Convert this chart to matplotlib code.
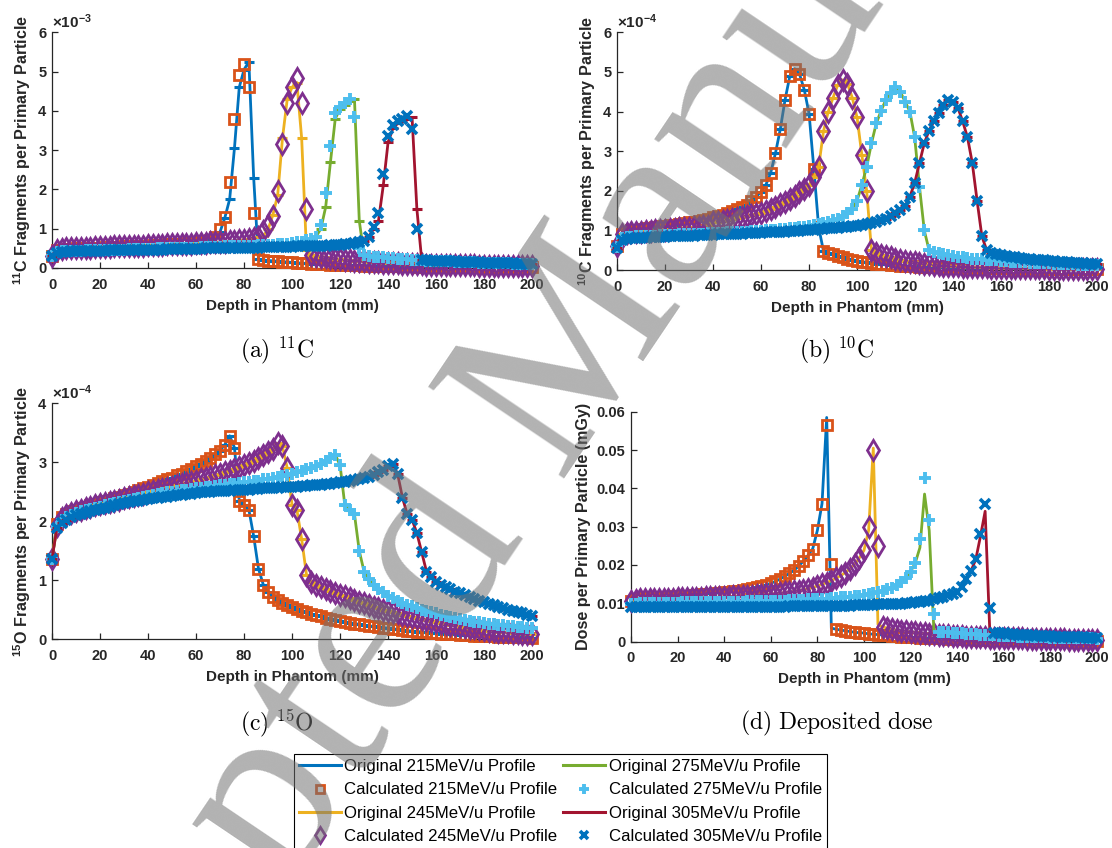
import numpy as np
import matplotlib
matplotlib.use("Agg")
import matplotlib.pyplot as plt
from matplotlib.lines import Line2D

plt.rcParams["font.family"] = "Liberation Sans"
plt.rcParams["font.weight"] = "bold"
plt.rcParams["mathtext.fontset"] = "custom"
plt.rcParams["mathtext.rm"] = "Liberation Sans"
plt.rcParams["mathtext.bf"] = "Liberation Sans:bold"

# depth samples (mm), every 2 mm
depth_mm = np.arange(0, 201, 2)

energies = ["215", "245", "275", "305"]

# ---- (a) 11C fragments per primary particle, units of 1e-3
c11_215 = [
    0.30, 0.45, 0.47, 0.48, 0.49, 0.50, 0.50, 0.51, 0.51, 0.52,
    0.52, 0.53, 0.53, 0.54, 0.54, 0.55, 0.55, 0.56, 0.56, 0.57,
    0.57, 0.58, 0.58, 0.59, 0.60, 0.60, 0.61, 0.62, 0.63, 0.64,
    0.65, 0.67, 0.69, 0.72, 0.80, 0.92, 1.28, 1.75, 3.05, 4.60,
    5.05, 5.25, 2.30, 0.22, 0.20, 0.19, 0.18, 0.17, 0.16, 0.15,
    0.14, 0.13, 0.12, 0.115, 0.11, 0.10, 0.095, 0.09, 0.085, 0.08,
    0.077, 0.073, 0.07, 0.067, 0.064, 0.061, 0.058, 0.055, 0.053, 0.05,
    0.048, 0.046, 0.044, 0.042, 0.04, 0.038, 0.037, 0.035, 0.034, 0.032,
    0.031, 0.03, 0.029, 0.028, 0.027, 0.026, 0.025, 0.024, 0.023, 0.022,
    0.021, 0.02, 0.02, 0.019, 0.018, 0.018, 0.017, 0.016, 0.016, 0.015,
    0.015]
c11_245 = [
    0.30, 0.47, 0.49, 0.50, 0.50, 0.51, 0.51, 0.52, 0.52, 0.53,
    0.53, 0.54, 0.54, 0.55, 0.55, 0.55, 0.56, 0.56, 0.57, 0.57,
    0.58, 0.58, 0.59, 0.59, 0.60, 0.60, 0.61, 0.61, 0.62, 0.62,
    0.63, 0.63, 0.64, 0.65, 0.65, 0.66, 0.67, 0.68, 0.69, 0.70,
    0.72, 0.73, 0.75, 0.78, 0.82, 0.98, 1.35, 1.85, 3.30, 4.30,
    4.60, 4.72, 3.30, 0.45, 0.33, 0.31, 0.29, 0.27, 0.25, 0.24,
    0.22, 0.21, 0.20, 0.19, 0.18, 0.17, 0.16, 0.15, 0.14, 0.135,
    0.13, 0.12, 0.115, 0.11, 0.105, 0.10, 0.095, 0.09, 0.088, 0.085,
    0.082, 0.08, 0.077, 0.075, 0.072, 0.07, 0.068, 0.066, 0.064, 0.062,
    0.06, 0.058, 0.056, 0.055, 0.053, 0.052, 0.05, 0.049, 0.048, 0.047,
    0.046]
c11_275 = [
    0.30, 0.40, 0.42, 0.43, 0.43, 0.44, 0.44, 0.45, 0.45, 0.45,
    0.46, 0.46, 0.46, 0.47, 0.47, 0.47, 0.48, 0.48, 0.48, 0.49,
    0.49, 0.49, 0.50, 0.50, 0.50, 0.51, 0.51, 0.51, 0.52, 0.52,
    0.52, 0.53, 0.53, 0.53, 0.54, 0.54, 0.55, 0.55, 0.55, 0.56,
    0.56, 0.57, 0.57, 0.58, 0.58, 0.59, 0.59, 0.60, 0.61, 0.62,
    0.63, 0.65, 0.67, 0.70, 0.74, 0.80, 1.00, 1.55, 2.70, 3.80,
    4.05, 4.15, 4.25, 4.30, 1.20, 0.32, 0.30, 0.29, 0.28, 0.27,
    0.26, 0.25, 0.24, 0.23, 0.22, 0.21, 0.205, 0.20, 0.19, 0.185,
    0.18, 0.175, 0.17, 0.165, 0.16, 0.155, 0.15, 0.145, 0.14, 0.135,
    0.13, 0.127, 0.124, 0.12, 0.117, 0.114, 0.11, 0.107, 0.104, 0.10,
    0.10]
c11_305 = [
    0.30, 0.38, 0.40, 0.41, 0.42, 0.42, 0.43, 0.43, 0.43, 0.44,
    0.44, 0.44, 0.45, 0.45, 0.45, 0.45, 0.46, 0.46, 0.46, 0.46,
    0.47, 0.47, 0.47, 0.47, 0.48, 0.48, 0.48, 0.48, 0.49, 0.49,
    0.49, 0.49, 0.50, 0.50, 0.50, 0.50, 0.51, 0.51, 0.51, 0.51,
    0.52, 0.52, 0.52, 0.52, 0.53, 0.53, 0.53, 0.53, 0.54, 0.54,
    0.54, 0.55, 0.55, 0.55, 0.56, 0.56, 0.57, 0.57, 0.58, 0.58,
    0.59, 0.60, 0.61, 0.63, 0.65, 0.68, 0.80, 1.00, 1.20, 2.10,
    3.20, 3.55, 3.68, 3.74, 3.78, 3.83, 1.50, 0.21, 0.20, 0.19,
    0.185, 0.18, 0.175, 0.17, 0.165, 0.16, 0.155, 0.15, 0.145, 0.14,
    0.135, 0.13, 0.127, 0.124, 0.12, 0.117, 0.114, 0.11, 0.107, 0.104,
    0.10]
# calculated profiles: same as the original except at these depths
c11_calc_diff = [
    {70: 1.0, 72: 1.3, 74: 2.2, 76: 3.8, 78: 4.9, 80: 5.2, 82: 4.6, 84: 1.4},
    {88: 0.95, 90: 1.1, 92: 1.32, 94: 1.95, 96: 3.15, 98: 4.2, 100: 4.6,
     102: 4.84, 104: 4.2, 106: 1.5},
    {110: 0.8, 112: 1.1, 114: 1.9, 116: 3.1, 118: 3.95, 120: 4.1, 122: 4.2,
     124: 4.3, 126: 3.85, 128: 0.5},
    {134: 1.05, 136: 1.4, 138: 2.4, 140: 3.35, 142: 3.65, 144: 3.75,
     146: 3.79, 148: 3.87, 150: 3.54, 152: 1.0},
]

# ---- (b) 10C fragments per primary particle, units of 1e-4
c10_215 = [
    0.60, 0.92, 0.97, 1.00, 1.02, 1.04, 1.05, 1.07, 1.08, 1.10,
    1.11, 1.13, 1.14, 1.16, 1.18, 1.20, 1.22, 1.24, 1.27, 1.30,
    1.33, 1.36, 1.40, 1.44, 1.48, 1.53, 1.58, 1.65, 1.73, 1.85,
    1.98, 2.15, 2.45, 2.95, 3.55, 4.30, 4.90, 5.08, 4.95, 4.55,
    3.95, 2.55, 1.08, 0.48, 0.44, 0.40, 0.36, 0.32, 0.29, 0.26,
    0.23, 0.21, 0.19, 0.175, 0.16, 0.15, 0.14, 0.13, 0.12, 0.11,
    0.10, 0.095, 0.09, 0.085, 0.08, 0.076, 0.072, 0.068, 0.065, 0.062,
    0.06, 0.057, 0.055, 0.053, 0.051, 0.049, 0.047, 0.045, 0.043, 0.042,
    0.04, 0.039, 0.038, 0.036, 0.035, 0.034, 0.033, 0.032, 0.031, 0.03,
    0.029, 0.028, 0.027, 0.026, 0.025, 0.024, 0.024, 0.023, 0.022, 0.022,
    0.021]
c10_245 = [
    0.60, 0.90, 0.93, 0.95, 0.96, 0.97, 0.98, 0.99, 1.00, 1.01,
    1.02, 1.03, 1.04, 1.05, 1.06, 1.07, 1.08, 1.09, 1.10, 1.11,
    1.20, 1.22, 1.24, 1.26, 1.28, 1.31, 1.33, 1.36, 1.39, 1.42,
    1.45, 1.50, 1.55, 1.60, 1.66, 1.72, 1.80, 1.88, 1.97, 2.05,
    2.15, 2.35, 2.60, 3.50, 4.00, 4.35, 4.68, 4.80, 4.70, 4.35,
    3.85, 2.90, 2.00, 0.50, 0.44, 0.39, 0.35, 0.32, 0.29, 0.26,
    0.23, 0.21, 0.19, 0.17, 0.155, 0.14, 0.13, 0.12, 0.11, 0.10,
    0.095, 0.09, 0.085, 0.08, 0.076, 0.072, 0.068, 0.065, 0.062, 0.059,
    0.056, 0.053, 0.051, 0.049, 0.047, 0.045, 0.043, 0.041, 0.039, 0.038,
    0.036, 0.035, 0.034, 0.033, 0.032, 0.031, 0.03, 0.029, 0.028, 0.027,
    0.026]
c10_275 = [
    0.58, 0.80, 0.83, 0.84, 0.85, 0.86, 0.86, 0.87, 0.87, 0.88,
    0.88, 0.89, 0.89, 0.90, 0.90, 0.91, 0.91, 0.92, 0.92, 0.93,
    0.93, 0.94, 0.94, 0.95, 0.95, 0.96, 0.97, 0.97, 0.98, 0.99,
    0.99, 1.00, 1.01, 1.02, 1.03, 1.04, 1.05, 1.06, 1.08, 1.09,
    1.11, 1.13, 1.15, 1.18, 1.21, 1.25, 1.30, 1.36, 1.44, 1.55,
    1.75, 2.15, 2.60, 3.20, 3.70, 4.02, 4.30, 4.48, 4.62, 4.50,
    4.25, 4.00, 3.35, 2.10, 1.00, 0.50, 0.46, 0.42, 0.40, 0.38,
    0.36, 0.34, 0.32, 0.31, 0.29, 0.28, 0.27, 0.26, 0.25, 0.24,
    0.23, 0.22, 0.21, 0.205, 0.20, 0.19, 0.185, 0.18, 0.175, 0.17,
    0.165, 0.16, 0.155, 0.15, 0.145, 0.14, 0.137, 0.133, 0.13, 0.127,
    0.125]
c10_305 = [
    0.55, 0.75, 0.78, 0.80, 0.81, 0.82, 0.82, 0.83, 0.83, 0.84,
    0.84, 0.85, 0.85, 0.86, 0.86, 0.87, 0.87, 0.88, 0.88, 0.89,
    0.89, 0.90, 0.90, 0.91, 0.91, 0.92, 0.92, 0.93, 0.93, 0.94,
    0.94, 0.95, 0.95, 0.96, 0.97, 0.97, 0.98, 0.99, 0.99, 1.00,
    1.01, 1.02, 1.03, 1.04, 1.05, 1.06, 1.07, 1.08, 1.09, 1.10,
    1.11, 1.13, 1.15, 1.18, 1.21, 1.25, 1.30, 1.36, 1.43, 1.52,
    1.62, 1.85, 2.20, 2.70, 3.20, 3.52, 3.75, 3.97, 4.16, 4.28,
    4.25, 4.10, 3.75, 3.35, 2.70, 1.75, 0.85, 0.50, 0.43, 0.40,
    0.38, 0.36, 0.34, 0.32, 0.30, 0.29, 0.27, 0.26, 0.25, 0.24,
    0.23, 0.22, 0.21, 0.20, 0.19, 0.18, 0.175, 0.17, 0.16, 0.155,
    0.15]
c10_calc_diff = [{}, {}, {}, {}]

# ---- (c) 15O fragments per primary particle, units of 1e-4
o15_215 = [
    1.37, 1.95, 2.08, 2.13, 2.17, 2.20, 2.23, 2.25, 2.28, 2.30,
    2.32, 2.35, 2.37, 2.40, 2.42, 2.45, 2.47, 2.50, 2.53, 2.56,
    2.59, 2.62, 2.65, 2.68, 2.71, 2.74, 2.78, 2.81, 2.85, 2.89,
    2.93, 2.98, 3.03, 3.08, 3.14, 3.20, 3.30, 3.45, 3.25, 2.35,
    2.27, 2.20, 1.75, 1.20, 0.93, 0.80, 0.72, 0.67, 0.62, 0.58,
    0.55, 0.52, 0.49, 0.46, 0.43, 0.41, 0.39, 0.37, 0.35, 0.33,
    0.32, 0.30, 0.285, 0.27, 0.255, 0.24, 0.23, 0.22, 0.21, 0.20,
    0.19, 0.18, 0.17, 0.16, 0.15, 0.14, 0.135, 0.127, 0.12, 0.113,
    0.107, 0.10, 0.095, 0.09, 0.085, 0.08, 0.075, 0.07, 0.066, 0.062,
    0.058, 0.055, 0.052, 0.049, 0.046, 0.043, 0.04, 0.038, 0.036, 0.034,
    0.032]
o15_245 = [
    1.37, 1.93, 2.05, 2.10, 2.14, 2.17, 2.20, 2.22, 2.25, 2.27,
    2.29, 2.31, 2.33, 2.35, 2.37, 2.39, 2.41, 2.43, 2.45, 2.47,
    2.49, 2.51, 2.53, 2.55, 2.57, 2.59, 2.61, 2.63, 2.65, 2.67,
    2.69, 2.71, 2.73, 2.75, 2.78, 2.80, 2.83, 2.86, 2.89, 2.92,
    2.95, 2.99, 3.03, 3.07, 3.12, 3.17, 3.23, 3.32, 3.27, 2.90,
    2.28, 2.20, 1.70, 1.10, 0.98, 0.93, 0.89, 0.86, 0.82, 0.79,
    0.76, 0.73, 0.70, 0.67, 0.64, 0.61, 0.58, 0.55, 0.53, 0.50,
    0.48, 0.46, 0.44, 0.42, 0.40, 0.38, 0.36, 0.35, 0.33, 0.32,
    0.30, 0.28, 0.27, 0.25, 0.24, 0.22, 0.21, 0.20, 0.19, 0.17,
    0.16, 0.15, 0.14, 0.135, 0.125, 0.12, 0.11, 0.105, 0.10, 0.095,
    0.09]
o15_275 = [
    1.37, 1.90, 2.02, 2.07, 2.11, 2.14, 2.17, 2.19, 2.21, 2.23,
    2.25, 2.27, 2.29, 2.31, 2.33, 2.35, 2.37, 2.38, 2.40, 2.42,
    2.43, 2.45, 2.46, 2.48, 2.49, 2.50, 2.51, 2.53, 2.54, 2.55,
    2.56, 2.57, 2.58, 2.59, 2.60, 2.61, 2.62, 2.63, 2.64, 2.65,
    2.66, 2.67, 2.68, 2.69, 2.71, 2.72, 2.74, 2.75, 2.77, 2.79,
    2.81, 2.83, 2.86, 2.88, 2.91, 2.94, 2.98, 3.03, 3.08, 3.13,
    2.95, 2.27, 2.20, 2.12, 1.50, 1.15, 1.02, 0.93, 0.86, 0.80,
    0.74, 0.70, 0.66, 0.62, 0.59, 0.56, 0.53, 0.50, 0.48, 0.46,
    0.44, 0.42, 0.40, 0.38, 0.36, 0.35, 0.33, 0.32, 0.30, 0.29,
    0.28, 0.27, 0.26, 0.25, 0.24, 0.23, 0.22, 0.21, 0.21, 0.20,
    0.20]
o15_305 = [
    1.37, 1.88, 1.98, 2.03, 2.07, 2.10, 2.13, 2.15, 2.17, 2.19,
    2.21, 2.23, 2.25, 2.27, 2.29, 2.31, 2.32, 2.34, 2.35, 2.37,
    2.38, 2.39, 2.40, 2.41, 2.42, 2.43, 2.44, 2.45, 2.46, 2.47,
    2.48, 2.49, 2.49, 2.50, 2.51, 2.51, 2.52, 2.52, 2.53, 2.53,
    2.54, 2.54, 2.55, 2.55, 2.56, 2.56, 2.57, 2.57, 2.58, 2.58,
    2.59, 2.59, 2.60, 2.60, 2.61, 2.62, 2.62, 2.63, 2.64, 2.65,
    2.66, 2.67, 2.68, 2.70, 2.72, 2.74, 2.76, 2.79, 2.83, 2.87,
    2.93, 2.97, 2.80, 2.40, 2.12, 2.03, 1.80, 1.48, 1.15, 1.05,
    0.98, 0.93, 0.89, 0.85, 0.81, 0.78, 0.75, 0.72, 0.69, 0.66,
    0.63, 0.60, 0.58, 0.55, 0.53, 0.50, 0.48, 0.46, 0.44, 0.42,
    0.40]
o15_calc_diff = [{}, {}, {}, {}]

# ---- (d) deposited dose per primary particle (mGy)
dose_215 = [
    0.0105, 0.0112, 0.0113, 0.0114, 0.0114, 0.0115, 0.0115, 0.0116, 0.0117, 0.0118,
    0.0119, 0.0120, 0.0120, 0.0121, 0.0122, 0.0123, 0.0124, 0.0125, 0.0126, 0.0127,
    0.0128, 0.0129, 0.0131, 0.0133, 0.0135, 0.0137, 0.0140, 0.0142, 0.0145, 0.0148,
    0.0152, 0.0157, 0.0163, 0.0170, 0.0178, 0.0186, 0.0197, 0.0210, 0.0225, 0.0242,
    0.0290, 0.0360, 0.0585, 0.0035, 0.0032, 0.0030, 0.0028, 0.0026, 0.0024, 0.0023,
    0.0022, 0.0020, 0.0019, 0.0018, 0.0017, 0.0016, 0.0015, 0.0014, 0.0013, 0.0012,
    0.0011, 0.0011, 0.0010, 0.0010, 0.0009, 0.0009, 0.0008, 0.0008, 0.0007, 0.0007,
    0.0007, 0.0006, 0.0006, 0.0006, 0.0005, 0.0005, 0.0005, 0.0005, 0.0004, 0.0004,
    0.0004, 0.0004, 0.0004, 0.0003, 0.0003, 0.0003, 0.0003, 0.0003, 0.0003, 0.0003,
    0.0003, 0.0002, 0.0002, 0.0002, 0.0002, 0.0002, 0.0002, 0.0002, 0.0002, 0.0002,
    0.0002]
dose_245 = [
    0.0105, 0.0109, 0.0110, 0.0110, 0.0111, 0.0111, 0.0111, 0.0112, 0.0112, 0.0112,
    0.0113, 0.0113, 0.0113, 0.0114, 0.0114, 0.0114, 0.0115, 0.0115, 0.0116, 0.0116,
    0.0117, 0.0117, 0.0118, 0.0118, 0.0119, 0.0120, 0.0120, 0.0121, 0.0122, 0.0123,
    0.0124, 0.0125, 0.0126, 0.0128, 0.0129, 0.0131, 0.0133, 0.0135, 0.0138, 0.0141,
    0.0145, 0.0149, 0.0154, 0.0159, 0.0165, 0.0172, 0.0180, 0.0190, 0.0202, 0.0218,
    0.0238, 0.0290, 0.0505, 0.0045, 0.0038, 0.0035, 0.0032, 0.0030, 0.0028, 0.0027,
    0.0025, 0.0024, 0.0022, 0.0021, 0.0020, 0.0019, 0.0018, 0.0017, 0.0016, 0.0015,
    0.0014, 0.0014, 0.0013, 0.0012, 0.0012, 0.0011, 0.0011, 0.0010, 0.0010, 0.0009,
    0.0009, 0.0009, 0.0008, 0.0008, 0.0008, 0.0007, 0.0007, 0.0007, 0.0007, 0.0006,
    0.0006, 0.0006, 0.0006, 0.0006, 0.0005, 0.0005, 0.0005, 0.0005, 0.0005, 0.0005,
    0.0005]
dose_275 = [
    0.0098, 0.0099, 0.0100, 0.0100, 0.0100, 0.0100, 0.0101, 0.0101, 0.0101, 0.0101,
    0.0101, 0.0102, 0.0102, 0.0102, 0.0102, 0.0102, 0.0103, 0.0103, 0.0103, 0.0103,
    0.0103, 0.0104, 0.0104, 0.0104, 0.0104, 0.0105, 0.0105, 0.0105, 0.0106, 0.0106,
    0.0106, 0.0107, 0.0107, 0.0107, 0.0108, 0.0108, 0.0109, 0.0109, 0.0110, 0.0110,
    0.0111, 0.0112, 0.0112, 0.0113, 0.0114, 0.0115, 0.0116, 0.0117, 0.0119, 0.0120,
    0.0122, 0.0124, 0.0126, 0.0129, 0.0132, 0.0136, 0.0141, 0.0147, 0.0155, 0.0165,
    0.0182, 0.0205, 0.0245, 0.0385, 0.0290, 0.0028, 0.0026, 0.0025, 0.0024, 0.0023,
    0.0022, 0.0021, 0.0020, 0.0019, 0.0019, 0.0018, 0.0017, 0.0017, 0.0016, 0.0015,
    0.0015, 0.0014, 0.0014, 0.0013, 0.0013, 0.0012, 0.0012, 0.0011, 0.0011, 0.0011,
    0.0010, 0.0010, 0.0010, 0.0009, 0.0009, 0.0009, 0.0008, 0.0008, 0.0008, 0.0008,
    0.0007]
dose_305 = [
    0.0090, 0.0089, 0.0089, 0.0089, 0.0089, 0.0089, 0.0089, 0.0089, 0.0089, 0.0089,
    0.0089, 0.0089, 0.0089, 0.0089, 0.0090, 0.0090, 0.0090, 0.0090, 0.0090, 0.0090,
    0.0090, 0.0090, 0.0090, 0.0090, 0.0090, 0.0090, 0.0091, 0.0091, 0.0091, 0.0091,
    0.0091, 0.0091, 0.0091, 0.0091, 0.0092, 0.0092, 0.0092, 0.0092, 0.0092, 0.0093,
    0.0093, 0.0093, 0.0093, 0.0093, 0.0094, 0.0094, 0.0094, 0.0094, 0.0095, 0.0095,
    0.0095, 0.0096, 0.0096, 0.0097, 0.0097, 0.0098, 0.0098, 0.0099, 0.0099, 0.0100,
    0.0101, 0.0102, 0.0104, 0.0105, 0.0107, 0.0110, 0.0113, 0.0117, 0.0121, 0.0125,
    0.0130, 0.0143, 0.0162, 0.0185, 0.0215, 0.0275, 0.0340, 0.0026, 0.0023, 0.0022,
    0.0021, 0.0020, 0.0019, 0.0018, 0.0017, 0.0017, 0.0016, 0.0015, 0.0015, 0.0014,
    0.0014, 0.0013, 0.0013, 0.0012, 0.0012, 0.0011, 0.0011, 0.0011, 0.0010, 0.0010,
    0.0010]
dose_calc_diff = [
    {84: 0.0565, 86: 0.0202},
    {102: 0.030, 104: 0.050, 106: 0.0249},
    {124: 0.0268, 126: 0.0427, 128: 0.0316, 130: 0.0071},
    {150: 0.0281, 152: 0.0359, 154: 0.0087},
]

orig_colors = ["#0072BD", "#EDB120", "#77AC30", "#A2142F"]
calc_colors = ["#D95319", "#7E2F8E", "#4DBEEE", "#0072BD"]
calc_markers = ["s", "d", "+", "x"]
calc_ms = [6.8, 10, 8, 6.5]
calc_mew = [2.0, 2.0, 2.8, 2.6]


def calculated(orig, diff):
    vals = list(orig)
    for d, v in diff.items():
        vals[d // 2] = v
    return vals


panels = [
    dict(rect=[0.0468, 0.6840, 0.4317, 0.2780], data=[c11_215, c11_245, c11_275, c11_305],
         diff=c11_calc_diff, ymax=6, yticks=[0, 1, 2, 3, 4, 5, 6],
         ylabel=r"$^{\mathbf{11}}$C Fragments per Primary Particle", offset="-3",
         caption=r"$\mathrm{(a)}\ {}^{11}\mathrm{C}$", cap_xy=(0.249, 0.587), bars=True),
    dict(rect=[0.5549, 0.6816, 0.4317, 0.2803], data=[c10_215, c10_245, c10_275, c10_305],
         diff=c10_calc_diff, ymax=6, yticks=[0, 1, 2, 3, 4, 5, 6],
         ylabel=r"$^{\mathbf{10}}$C Fragments per Primary Particle", offset="-4",
         caption=r"$\mathrm{(b)}\ {}^{10}\mathrm{C}$", cap_xy=(0.752, 0.587), bars=True),
    dict(rect=[0.0468, 0.2459, 0.4317, 0.2785], data=[o15_215, o15_245, o15_275, o15_305],
         diff=o15_calc_diff, ymax=4, yticks=[0, 1, 2, 3, 4],
         ylabel=r"$^{\mathbf{15}}$O Fragments per Primary Particle", offset="-4",
         caption=r"$\mathrm{(c)}\ {}^{15}\mathrm{O}$", cap_xy=(0.249, 0.147), bars=True),
    dict(rect=[0.5674, 0.2435, 0.4191, 0.2710], data=[dose_215, dose_245, dose_275, dose_305],
         diff=dose_calc_diff, ymax=0.06, yticks=[0, 0.01, 0.02, 0.03, 0.04, 0.05, 0.06],
         ylabel="Dose per Primary Particle (mGy)", offset=None,
         caption=r"$\mathrm{(d)\ Deposited\ dose}$", cap_xy=(0.752, 0.147), bars=False),
]

fig = plt.figure(figsize=(11.12, 8.48), dpi=100)

for p in panels:
    ax = fig.add_axes(p["rect"])
    for k in range(4):
        orig = p["data"][k]
        calc = calculated(orig, p["diff"][k])
        ax.plot(depth_mm, orig, color=orig_colors[k], lw=2.0,
                marker="_" if p["bars"] else None, ms=6.5, mew=2.2,
                clip_on=False, zorder=2 + 2 * k)
        ax.plot(depth_mm, calc, ls="none", marker=calc_markers[k],
                ms=calc_ms[k], mew=calc_mew[k], mfc="none", mec=calc_colors[k],
                clip_on=False, zorder=3 + 2 * k)
    ax.set_xlim(0, 200)
    ax.set_ylim(0, p["ymax"])
    ax.set_xticks(range(0, 201, 20))
    ax.set_yticks(p["yticks"])
    ax.set_yticklabels(["%g" % t for t in p["yticks"]])
    ax.spines["top"].set_visible(False)
    ax.spines["right"].set_visible(False)
    for s in ("left", "bottom"):
        ax.spines[s].set_color("#262626")
        ax.spines[s].set_linewidth(0.9)
    ax.tick_params(direction="in", length=4, width=0.9, labelsize=10.5,
                   colors="#262626")
    ax.tick_params(axis="x", pad=7)
    ax.tick_params(axis="y", pad=4)
    ax.set_xlabel("Depth in Phantom (mm)", fontsize=11, fontweight="bold",
                  color="#262626", labelpad=5)
    ax.set_ylabel(p["ylabel"], fontsize=11.6, fontweight="bold", color="#262626",
                  labelpad=4)
    if p["offset"]:
        ax.text(0.0, 1.005, r"$\times\mathrm{10^{%s}}$" % p["offset"],
                transform=ax.transAxes, ha="left", va="bottom", fontsize=11,
                fontweight="normal", color="#262626")
    fig.text(p["cap_xy"][0], p["cap_xy"][1], p["caption"], math_fontfamily="cm",
             fontsize=17, ha="center", va="center", color="black")

handles, labels = [], []
for k, e in enumerate(energies):
    handles.append(Line2D([], [], color=orig_colors[k], lw=2.2))
    labels.append("Original %sMeV/u Profile" % e)
    handles.append(Line2D([], [], ls="none", marker=calc_markers[k], ms=calc_ms[k] * 0.85,
                          mew=calc_mew[k], mfc="none", mec=calc_colors[k]))
    labels.append("Calculated %sMeV/u Profile" % e)

leg = fig.legend(handles, labels, ncol=2, loc="upper left",
                 bbox_to_anchor=(0.2644, 0.1108), frameon=True, fancybox=False,
                 edgecolor="black", framealpha=1,
                 prop={"family": "Liberation Sans", "size": 12.1, "weight": "normal"},
                 handlelength=2.5, handletextpad=0.2, columnspacing=0.35,
                 labelspacing=0.5, borderpad=0.3, borderaxespad=0)
leg.get_frame().set_linewidth(0.8)

# watermark
fig.text(0.4928, 0.5342, "Accepted Manuscript", rotation=56, rotation_mode="anchor",
         ha="center", va="center", fontsize=180, family="Liberation Serif",
         fontweight="normal", color="#737373", alpha=0.55, zorder=10)

fig.savefig("out.png", dpi=100)
